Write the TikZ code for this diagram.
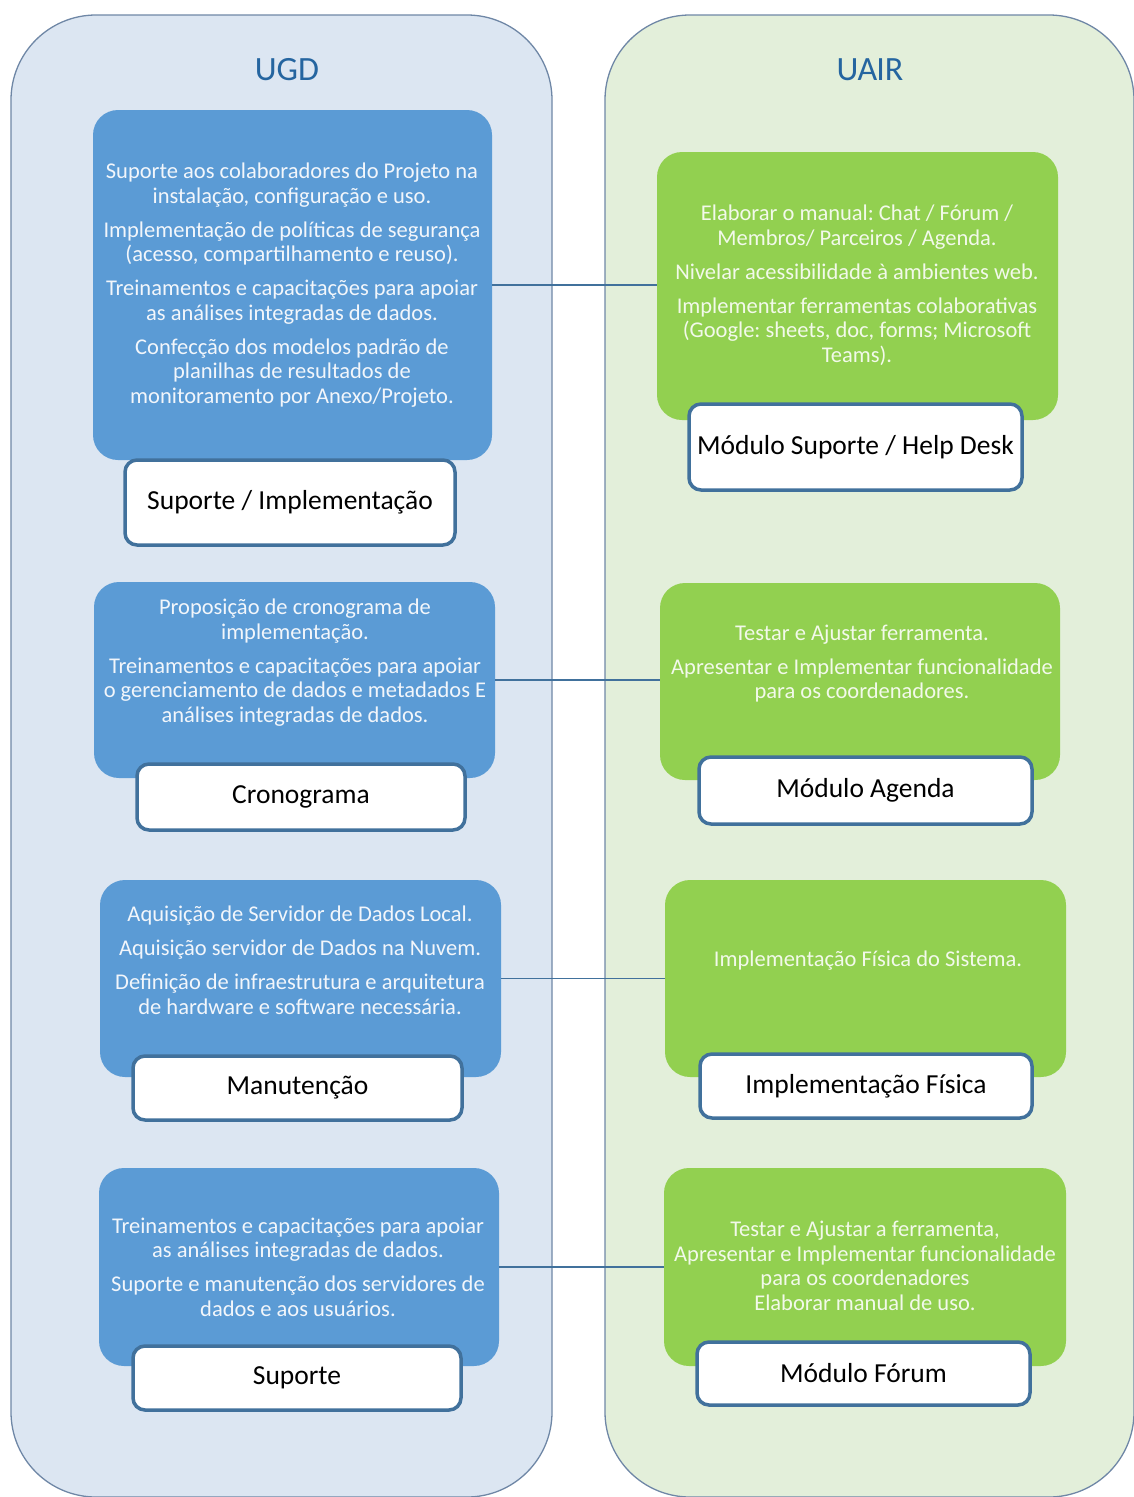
\documentclass[tikz,border=0pt]{standalone}
\usepackage{fontspec}
\setmainfont{Carlito}
\frenchspacing
\definecolor{contblue}{HTML}{DCE6F2}
\definecolor{contgreen}{HTML}{E3EFDA}
\definecolor{contline}{HTML}{6F87A6}
\definecolor{boxblue}{HTML}{5B9BD5}
\definecolor{boxgreen}{HTML}{92D050}
\definecolor{labline}{HTML}{41719C}
\definecolor{titlecol}{HTML}{2565A0}
\definecolor{conncol}{HTML}{41719C}
\definecolor{btxt}{HTML}{F2F6FB}
\definecolor{gtxt}{HTML}{F2F9EA}
\tikzset{
  container/.style={draw=contline, line width=1.3pt, rounded corners=85pt, inner sep=0pt},
  title/.style={text=titlecol, font=\fontsize{34}{40}\selectfont},
  bluebox/.style={fill=boxblue, draw=none, rounded corners=25pt, inner sep=0pt},
  greenbox/.style={fill=boxgreen, draw=none, rounded corners=25pt, inner sep=0pt},
  boxtext/.style={align=center, inner sep=0pt, font=\fontsize{22.5}{24.5}\selectfont\frenchspacing},
  btext/.style={boxtext, text=btxt},
  gtext/.style={boxtext, text=gtxt},
  labelbox/.style={draw=labline, line width=3.5pt, fill=white, rounded corners=12pt, inner sep=0pt,
    font=\fontsize{27.5}{32}\selectfont, text=black},
  conn/.style={draw=conncol, line width=1.5pt}
}
\begin{document}
\begin{tikzpicture}[x=1pt,y=-1pt]
\useasboundingbox (0,0) rectangle (1134,1497);
% containers
\node[container, fill=contblue, minimum width=541pt, minimum height=1482pt] (ugd) at (281.5,756) {};
\node[container, fill=contgreen, minimum width=529pt, minimum height=1482pt] (uair) at (869.5,756) {};
\node[title] (ugdtitle) at (287,70) {UGD};
\node[title] (uairtitle) at (870,70) {UA\kern-1ptIR};

% left column
\node[bluebox, minimum width=399pt, minimum height=350pt] (b1) at (292.5,285) {};
\node[btext] (bt1) at (292,285) {Suporte aos colaboradores do Projeto na\\instalação, configuração e uso.\\[9.5pt]
Implementação de políticas de segurança\\(acesso, compartilhamento e reuso).\\[9.5pt]
Treinamentos e capacitações para apoiar\\as análises integradas de dados.\\[9.5pt]
Confecção dos modelos padrão de\\planilhas de resultados de\\monitoramento por Anexo/Projeto.};
\node[labelbox, minimum width=330pt, minimum height=85pt] (bl1) at (290,502.5) {Suporte / Implementação};

\node[bluebox, minimum width=401pt, minimum height=196pt] (b2) at (294.5,680) {};
\node[btext] (bt2) at (295,662.5) {Proposição de cronograma de\\implementação.\\[9.5pt]
Treinamentos e capacitações para apoiar\\o gerenciamento de dados e metadados E\\análises integradas de dados.};
\node[labelbox, minimum width=328pt, minimum height=66pt] (bl2) at (301,797) {Cronograma};

\node[bluebox, minimum width=401pt, minimum height=197pt] (b3) at (300.5,978.5) {};
\node[btext] (bt3) at (300,960.5) {Aquisição de Servidor de Dados Local.\\[9.5pt]
Aquisição servidor de Dados na Nuvem.\\[9.5pt]
Definição de infraestrutura e arquitetura\\de hardware e software necessária.};
\node[labelbox, minimum width=329pt, minimum height=64pt] (bl3) at (297.5,1088) {Manutenção};

\node[bluebox, minimum width=400pt, minimum height=198pt] (b4) at (299,1267) {};
\node[btext] (bt4) at (298,1267) {Treinamentos e capacitações para apoiar\\as análises integradas de dados.\\[9.5pt]
Suporte e manutenção dos servidores de\\dados e aos usuários.};
\node[labelbox, minimum width=328pt, minimum height=64pt] (bl4) at (297,1378) {Suporte};

% right column
\node[greenbox, minimum width=401pt, minimum height=268pt] (g1) at (857.5,286) {};
\node[gtext] (gt1) at (857,285) {Elaborar o manual: Chat / Fórum /\\Membros/ Parceiros / Agenda.\\[9.5pt]
Nivelar acessibilidade à ambientes web.\\[9.5pt]
Implementar ferramentas colaborativas\\(Google: sheets, doc, forms; Microsoft\\Teams).};
\node[labelbox, minimum width=333pt, minimum height=86pt] (gl1) at (855.5,447) {Módulo Suporte / Help Desk};

\node[greenbox, minimum width=400pt, minimum height=197pt] (g2) at (860,681.5) {};
\node[gtext] (gt2) at (862,663.5) {Testar e Ajustar ferramenta.\\[9.5pt]
Apresentar e Implementar funcionalidade\\para os coordenadores.};
\node[labelbox, minimum width=333pt, minimum height=67pt] (gl2) at (865.5,790.5) {Módulo Agenda};

\node[greenbox, minimum width=401pt, minimum height=197pt] (g3) at (865.5,978.5) {};
\node[gtext] (gt3) at (868,961) {Implementação Física do Sistema.};
\node[labelbox, minimum width=332pt, minimum height=64pt] (gl3) at (866,1086) {Implementação Física};

\node[greenbox, minimum width=402pt, minimum height=198pt] (g4) at (865,1267) {};
\node[gtext] (gt4) at (865,1266) {Testar e Ajustar a ferramenta,\\Apresentar e Implementar funcionalidade\\para os coordenadores\\Elaborar manual de uso.};
\node[labelbox, minimum width=333pt, minimum height=63pt] (gl4) at (863.5,1373.5) {Módulo Fórum};

% connectors
\draw[conn] (b1.east) -- (b1.east -| g1.west);
\draw[conn] (b2.east) -- (b2.east -| g2.west);
\draw[conn] (b3.east) -- (b3.east -| g3.west);
\draw[conn] (b4.east) -- (b4.east -| g4.west);
\end{tikzpicture}
\end{document}
